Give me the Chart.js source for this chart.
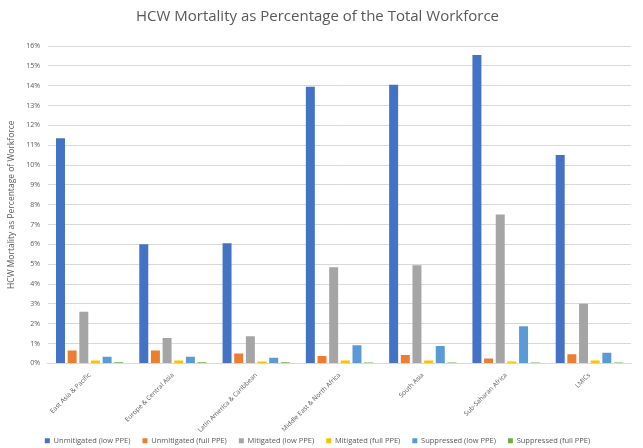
<!DOCTYPE html>
<html>
<head>
<meta charset="utf-8">
<script src="https://cdn.jsdelivr.net/npm/chart.js@4.4.1/dist/chart.umd.min.js"></script>
<style>
  html, body { margin: 0; padding: 0; background: #fff; }
  .wrap { width: 643px; height: 448px; }
</style>
</head>
<body>
<div class="wrap"><canvas id="chart"></canvas></div>
<script>
"use strict";

const regions = ["East Asia & Pacific", "Europe & Central Asia", "Latin America & Caribbean",
    "Middle East & North Africa", "South Asia", "Sub-Saharan Africa", "LMICs"];

const unmitigatedLow = [11.35, 6.0, 6.05, 13.95, 14.05, 15.55, 10.5];
const unmitigatedFull = [0.65, 0.65, 0.5, 0.37, 0.42, 0.24, 0.46];
const mitigatedLow = [2.6, 1.28, 1.37, 4.85, 4.95, 7.5, 3.0];
const mitigatedFull = [0.15, 0.15, 0.1, 0.15, 0.15, 0.1, 0.15];
const suppressedLow = [0.34, 0.34, 0.29, 0.92, 0.88, 1.87, 0.53];
const suppressedFull = [0.06, 0.06, 0.06, 0.05, 0.05, 0.05, 0.05];

const seriesNames = ["Unmitigated (low PPE)", "Unmitigated (full PPE)", "Mitigated (low PPE)",
    "Mitigated (full PPE)", "Suppressed (low PPE)", "Suppressed (full PPE)"];
const seriesColors = ["#4472C4", "#ED7D31", "#A5A5A5", "#FFC000", "#5B9BD5", "#70AD47"];
const seriesData = [unmitigatedLow, unmitigatedFull, mitigatedLow, mitigatedFull, suppressedLow, suppressedFull];

const grey = "#595959";

// keep the wide spacing between legend items but not the tall padding above/below
const tightLegend = {
    id: "tightLegend",
    beforeInit(chart) {
        const lg = chart.legend;
        if (!lg) return;
        const fit = lg.fit;
        lg.fit = function () {
            fit.call(this);
            this.height = 14;
        };
        const draw = lg.draw;
        lg.draw = function () {
            const t = this.top;
            this.top = t - 9;
            draw.call(this);
            this.top = t;
        };
    }
};

new Chart(document.getElementById("chart"), {
    type: "bar",
    data: {
        labels: regions,
        datasets: seriesNames.map((name, i) => ({
            label: name,
            data: seriesData[i],
            backgroundColor: seriesColors[i],
            barPercentage: 0.77,
            categoryPercentage: 0.84
        }))
    },
    options: {
        responsive: true,
        maintainAspectRatio: false,
        animation: false,
        layout: { padding: { left: 4, right: 12, top: 4, bottom: 0 } },
        plugins: {
            title: {
                display: true,
                text: "HCW Mortality as Percentage of the Total Workforce",
                color: grey,
                font: { family: "Open Sans", size: 15, weight: "normal" },
                padding: { top: 4, bottom: 20 }
            },
            legend: {
                position: "bottom",
                labels: {
                    color: grey,
                    font: { family: "Open Sans", size: 7.5 },
                    boxWidth: 5,
                    boxHeight: 5,
                    padding: 12
                }
            },
            tooltip: { enabled: false }
        },
        scales: {
            x: {
                grid: { display: false },
                border: { color: "#d9d9d9" },
                ticks: {
                    color: grey,
                    padding: 0,
                    font: { family: "Open Sans", size: 6.5 },
                    minRotation: 45,
                    maxRotation: 45
                }
            },
            y: {
                min: 0,
                max: 16,
                border: { display: false },
                grid: { color: "#d9d9d9", drawTicks: false },
                title: {
                    display: true,
                    text: "HCW Mortality as Percentage of Workforce",
                    color: grey,
                    padding: 2,
                    font: { family: "Open Sans", size: 8.5 }
                },
                ticks: {
                    stepSize: 1,
                    color: grey,
                    padding: 8,
                    font: { family: "Open Sans", size: 7 },
                    callback: v => v + "%"
                }
            }
        }
    },
    plugins: [tightLegend]
});
</script>
</body>
</html>
